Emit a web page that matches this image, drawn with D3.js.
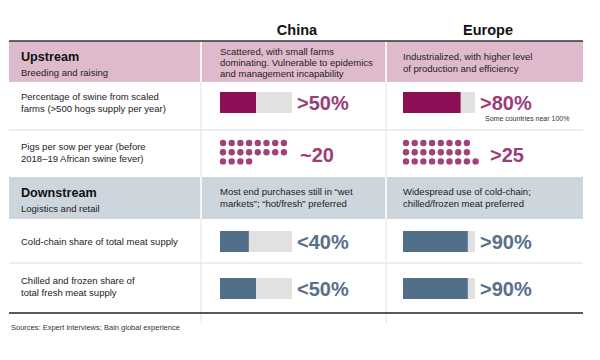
<!DOCTYPE html>
<html>
<head>
<meta charset="utf-8">
<script src="https://cdn.jsdelivr.net/npm/d3@7"></script>
<style>
  html, body { margin: 0; padding: 0; background: #fff; }
  svg { display: block; font-family: "Liberation Sans", Arial, sans-serif; }
</style>
</head>
<body>
<svg id="chart" width="600" height="360"></svg>
<script>
// ---------- data ----------
const regions = ["China", "Europe"];
const sectionTitles = ["Upstream", "Downstream"];
const sectionSubtitles = ["Breeding and raising", "Logistics and retail"];
const upstreamNotes = [
  ["Scattered, with small farms", "dominating. Vulnerable to epidemics", "and management incapability"],
  ["Industrialized, with higher level", "of production and efficiency"]
];
const downstreamNotes = [
  ["Most end purchases still in \u201cwet", "markets\u201d; \u201chot/fresh\u201d preferred"],
  ["Widespread use of cold-chain;", "chilled/frozen meat preferred"]
];
const metricLabels = [
  ["Percentage of swine from scaled", "farms (>500 hogs supply per year)"],
  ["Pigs per sow per year (before", "2018\u201319 African swine fever)"],
  ["Cold-chain share of total meat supply"],
  ["Chilled and frozen share of", "total fresh meat supply"]
];
const scaledFarmShare = [50, 80];
const scaledFarmLabels = [">50%", ">80%"];
const scaledFarmNote = ["", "Some countries near 100%"];
const pigsPerSow = [20, 25];
const pigsPerSowRows = [[8, 8, 4], [8, 8, 9]];
const pigsPerSowLabels = ["~20", ">25"];
const coldChainShare = [40, 90];
const coldChainLabels = ["<40%", ">90%"];
const chilledShare = [50, 90];
const chilledLabels = ["<50%", ">90%"];
const sourceText = "Sources: Expert interviews; Bain global experience";

// ---------- layout ----------
const svg = d3.select("#chart");
const L = 9, R = 583;
const colEdges = [L, 201, 386, R];
const colText = [21, 220, 403];
const magenta = "#8c0f56", magentaText = "#9b3c76", dotColor = "#a0417b";
const blue = "#516f88", blueText = "#587089";
const pink = "#dfbacd", grayBlue = "#cdd5dd", track = "#e1e1e1";
const rowsY = { h1: [41, 82], r1: [82, 130], r2: [130, 177], h2: [177, 219], r3: [219, 263], r4: [263, 313] };

const barX = d3.scaleLinear().domain([0, 100]).range([0, 72]);

// header bands
svg.append("rect").attr("x", L).attr("y", rowsY.h1[0]).attr("width", R - L).attr("height", rowsY.h1[1] - rowsY.h1[0]).attr("fill", pink);
svg.append("rect").attr("x", L).attr("y", rowsY.h2[0]).attr("width", R - L).attr("height", rowsY.h2[1] - rowsY.h2[0]).attr("fill", grayBlue);

// row dividers
[rowsY.r1[1], rowsY.r3[1]].forEach(y => {
  svg.append("line").attr("x1", L).attr("x2", R).attr("y1", y).attr("y2", y).attr("stroke", "#dcdcdc").attr("stroke-width", 1);
});

// vertical dividers
[colEdges[1], colEdges[2]].forEach(x => {
  svg.append("line").attr("x1", x).attr("x2", x).attr("y1", 41).attr("y2", 323).attr("stroke", "#e6e6e6").attr("stroke-width", 1.2);
  [rowsY.h1, rowsY.h2].forEach(h => {
    svg.append("line").attr("x1", x).attr("x2", x).attr("y1", h[0]).attr("y2", h[1]).attr("stroke", "#fff").attr("stroke-width", 1.5);
  });
});

// top & bottom rules
svg.append("line").attr("x1", L).attr("x2", R).attr("y1", 41).attr("y2", 41).attr("stroke", "#333").attr("stroke-width", 1.5);
svg.append("line").attr("x1", L).attr("x2", R).attr("y1", 313).attr("y2", 313).attr("stroke", "#222").attr("stroke-width", 1.3);

// column titles
const titleX = [297, 488];
regions.forEach((r, i) => {
  svg.append("text").attr("x", titleX[i]).attr("y", 35).attr("text-anchor", "middle")
    .attr("font-size", 14.5).attr("font-weight", "bold").attr("fill", "#111").text(r);
});

function lines(x, y0, dy, arr, size, color, weight) {
  const t = svg.append("text").attr("font-size", size).attr("fill", color).attr("font-weight", weight || "normal");
  arr.forEach((s, i) => t.append("tspan").attr("x", x).attr("y", y0 + i * dy).text(s));
  return t;
}

// section headers
const secY = [rowsY.h1, rowsY.h2];
sectionTitles.forEach((s, i) => {
  const y0 = secY[i][0];
  svg.append("text").attr("x", colText[0]).attr("y", y0 + 20).attr("font-size", 12.6).attr("font-weight", "bold").attr("fill", "#111").text(s);
  svg.append("text").attr("x", colText[0]).attr("y", y0 + 35).attr("font-size", 9.5).attr("fill", "#222").text(sectionSubtitles[i]);
});
lines(colText[1], 54.5, 11.3, upstreamNotes[0], 9.5, "#222");
lines(colText[2], 60, 11.5, upstreamNotes[1], 9.5, "#222");
lines(colText[1], 195, 11.5, downstreamNotes[0], 9.5, "#222");
lines(colText[2], 195, 11.5, downstreamNotes[1], 9.5, "#222");

// metric labels
const labelY = [100, 150, 245, 284];
metricLabels.forEach((m, i) => lines(colText[0], labelY[i], 12, m, 9.5, "#222"));

// bar rows
function barRow(values, labels, y, fill, textFill, notes) {
  values.forEach((v, i) => {
    const x0 = colText[i + 1];
    svg.append("rect").attr("x", x0).attr("y", y).attr("width", barX(100)).attr("height", 21).attr("fill", track);
    svg.append("rect").attr("x", x0).attr("y", y).attr("width", barX(v)).attr("height", 21).attr("fill", fill);
    svg.append("text").attr("x", x0 + barX(100) + 5).attr("y", y + 18).attr("font-size", 20).attr("font-weight", "bold").attr("fill", textFill).text(labels[i]);
    if (notes && notes[i]) {
      svg.append("text").attr("x", x0 + barX(100) + 10).attr("y", y + 29).attr("font-size", 7).attr("fill", "#333").text(notes[i]);
    }
  });
}
barRow(scaledFarmShare, scaledFarmLabels, 92, magenta, magentaText, scaledFarmNote);
barRow(coldChainShare, coldChainLabels, 231, blue, blueText);
barRow(chilledShare, chilledLabels, 278, blue, blueText);

// dot row
const dotDX = 8.7, dotDY = 9.2, dotR = 3.2;
pigsPerSow.forEach((v, i) => {
  const x0 = colText[i + 1] + 3;
  const dots = [];
  pigsPerSowRows[i].forEach((n, r) => d3.range(n).forEach(c => dots.push({ r, c })));
  svg.append("g").selectAll("circle").data(dots.slice(0, v)).join("circle")
    .attr("cx", d => x0 + d.c * dotDX).attr("cy", d => 143 + d.r * dotDY).attr("r", dotR).attr("fill", dotColor);
});
svg.append("text").attr("x", 300).attr("y", 162).attr("font-size", 20).attr("font-weight", "bold").attr("fill", magentaText).text(pigsPerSowLabels[0]);
svg.append("text").attr("x", 490).attr("y", 162).attr("font-size", 20).attr("font-weight", "bold").attr("fill", magentaText).text(pigsPerSowLabels[1]);

// source
svg.append("text").attr("x", 11).attr("y", 329.5).attr("font-size", 7.5).attr("fill", "#333").text(sourceText);
</script>
</body>
</html>
